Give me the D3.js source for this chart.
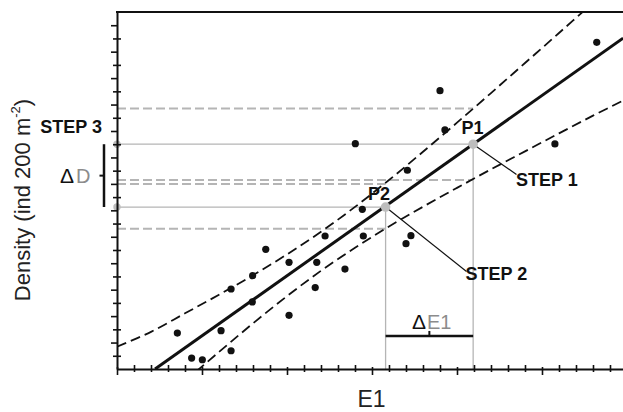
<!DOCTYPE html>
<html lang="en">
<head>
<meta charset="UTF-8">
<title>Density vs E1</title>
<script src="https://cdn.jsdelivr.net/npm/d3@7"></script>
<style>
  body { margin: 0; background: #fff; }
  text { font-family: "Liberation Sans", Arial, sans-serif; }
</style>
</head>
<body>
<svg width="623" height="412"></svg>
<script>

// observed points (E1, density)
const pointsX = [3.55, 4.39, 5.02, 6.12, 6.71, 6.71, 7.98, 7.96, 8.75, 10.12, 10.12, 11.75, 11.66,
                 12.24, 13.41, 14.43, 14.49, 17.0, 17.29, 17.08, 14.02, 19.29, 19.0, 25.76, 28.22];
const pointsY = [2.72, 0.83, 0.70, 2.90, 1.38, 6.05, 7.06, 5.07, 9.05, 8.07, 4.06, 8.07, 6.16,
                 10.06, 7.56, 12.08, 10.06, 9.48, 10.08, 15.03, 17.04, 18.08, 21.05, 17.02, 24.71];

// fitted line and confidence band
const fitX = [2.24, 29.77];
const fitY = [0, 25.02];
const upperX = [0, 2, 4, 6, 8, 10, 12, 14, 16, 18, 20, 22, 24, 26, 28];
const upperY = [1.69, 2.81, 4.21, 5.62, 7.09, 8.67, 10.38, 12.26, 14.29, 16.43, 18.63, 20.87, 23.14, 25.41, 27.7];
const lowerX = [4, 6, 8, 10, 12, 14, 16, 18, 20, 22, 24, 26, 28, 30];
const lowerY = [-0.92, 1.29, 3.45, 5.51, 7.43, 9.17, 10.78, 12.27, 13.70, 15.10, 16.46, 17.82, 19.16, 20.45];

// P1, P2
const stepX = [20.95, 15.8];
const stepY = [17.0, 12.25];
// band limits read at P1 and P2
const levelY = [19.7, 14.3, 14.0, 10.6];
const levelEnd = [20.95, 20.95, 15.8, 15.8];

const xTicks = d3.range(0, 30);
const yTicks = d3.range(1, 27);

const svg = d3.select("svg");
const x = d3.scaleLinear().domain([0, 29.765]).range([117, 623]);
const y = d3.scaleLinear().domain([0, 27]).range([369, 12]);

const grey = "#b5b5b5";
const textGrey = "#8c8c8c";

svg.append("clipPath").attr("id", "plot")
    .append("rect").attr("x", 117).attr("y", 12).attr("width", 506).attr("height", 357);

// dashed grey levels
svg.append("g").selectAll("line").data(levelY).join("line")
    .attr("x1", x(0)).attr("x2", (d, i) => x(levelEnd[i]))
    .attr("y1", d => y(d)).attr("y2", d => y(d))
    .attr("stroke", grey).attr("stroke-width", 2).attr("stroke-dasharray", "9,4");

// solid grey guides
const guides = svg.append("g").attr("stroke", grey).attr("stroke-width", 1.3);
stepX.forEach((sx, i) => {
    guides.append("line").attr("x1", x(0)).attr("x2", x(sx))
        .attr("y1", y(stepY[i])).attr("y2", y(stepY[i]));
    guides.append("line").attr("x1", x(sx)).attr("x2", x(sx))
        .attr("y1", y(stepY[i])).attr("y2", y(0));
});

// band + fit
const line = d3.line().curve(d3.curveCatmullRom);
const plot = svg.append("g").attr("clip-path", "url(#plot)");
plot.append("path")
    .attr("d", line(upperX.map((d, i) => [x(d), y(upperY[i])])))
    .attr("fill", "none").attr("stroke", "#111").attr("stroke-width", 1.8).attr("stroke-dasharray", "10,5");
plot.append("path")
    .attr("d", line(lowerX.map((d, i) => [x(d), y(lowerY[i])])))
    .attr("fill", "none").attr("stroke", "#111").attr("stroke-width", 1.8).attr("stroke-dasharray", "10,5");
plot.append("path")
    .attr("d", d3.line()(fitX.map((d, i) => [x(d), y(fitY[i])])))
    .attr("fill", "none").attr("stroke", "#111").attr("stroke-width", 3);

// points
svg.append("g").selectAll("circle").data(pointsX).join("circle")
    .attr("cx", d => x(d)).attr("cy", (d, i) => y(pointsY[i]))
    .attr("r", 3.6).attr("fill", "#111");

// leader lines to STEP 1 / STEP 2
svg.append("line").attr("x1", x(stepX[0])).attr("y1", y(stepY[0]))
    .attr("x2", 516.5).attr("y2", 174.5).attr("stroke", "#111").attr("stroke-width", 1.2);
svg.append("line").attr("x1", x(stepX[1])).attr("y1", y(stepY[1]))
    .attr("x2", 466.5).attr("y2", 271.5).attr("stroke", "#111").attr("stroke-width", 1.2);

// grey markers
svg.append("g").selectAll("circle").data(stepX).join("circle")
    .attr("cx", d => x(d)).attr("cy", (d, i) => y(stepY[i]))
    .attr("r", 4.8).attr("fill", "#bdbdbd");
svg.append("g").selectAll("circle").data(stepY).join("circle")
    .attr("cx", x(0)).attr("cy", d => y(d))
    .attr("r", 3.7).attr("fill", "#bdbdbd");

// axes
const xAxis = svg.append("g").attr("transform", `translate(0,${y(0)})`)
    .call(d3.axisBottom(x).tickValues(xTicks).tickFormat("").tickSizeOuter(0));
xAxis.select(".domain").attr("stroke", "#111").attr("stroke-width", 2);
xAxis.selectAll(".tick line").attr("stroke", "#111").attr("stroke-width", 1.6)
    .attr("y1", d => d % 5 === 0 ? -2 : -4)
    .attr("y2", d => d % 5 === 0 ? 6 : 3);

const yAxis = svg.append("g").attr("transform", `translate(${x(0)},0)`)
    .call(d3.axisLeft(y).tickValues(yTicks).tickFormat("").tickSizeOuter(0));
yAxis.select(".domain").attr("stroke", "#111").attr("stroke-width", 2);
yAxis.selectAll(".tick line").attr("stroke", "#111").attr("stroke-width", 1.6)
    .attr("x1", d => d % 2 === 0 ? 0.5 : 4)
    .attr("x2", d => d % 2 === 0 ? -6 : -4);

svg.append("line").attr("x1", x(0) - 1).attr("x2", 623).attr("y1", y(27)).attr("y2", y(27))
    .attr("stroke", "#111").attr("stroke-width", 2);

// axis titles
svg.append("text").attr("x", 371.5).attr("y", 406.5).attr("text-anchor", "middle")
    .attr("font-size", 23).attr("fill", "#222").text("E1");
const yl = svg.append("text").attr("transform", "translate(29.5,200) rotate(-90)")
    .attr("text-anchor", "middle").attr("font-size", 22).attr("fill", "#222");
yl.append("tspan").text("Density (ind 200 m");
yl.append("tspan").attr("dy", -10).attr("font-size", 13).text("-2");
yl.append("tspan").attr("dy", 10).text(")");

// labels
const bold = [["STEP 3", 102, 133, "end"], ["P1", 461.5, 134, "start"], ["P2", 368, 200, "start"],
              ["STEP 1", 516, 186, "start"], ["STEP 2", 465.5, 280, "start"]];
svg.append("g").selectAll("text").data(bold).join("text")
    .attr("x", d => d[1]).attr("y", d => d[2]).attr("text-anchor", d => d[3])
    .attr("font-size", 18).attr("font-weight", "bold").attr("fill", "#111")
    .text(d => d[0]);

// delta D bracket
const bx = 104;
svg.append("line").attr("x1", bx).attr("x2", bx).attr("y1", y(stepY[0])).attr("y2", y(stepY[1]))
    .attr("stroke", "#111").attr("stroke-width", 2.5);
svg.append("line").attr("x1", bx - 4.5).attr("x2", bx)
    .attr("y1", y((stepY[0] + stepY[1]) / 2)).attr("y2", y((stepY[0] + stepY[1]) / 2))
    .attr("stroke", "#111").attr("stroke-width", 2);
const dd = svg.append("text").attr("x", 60).attr("y", 183).attr("font-size", 20);
dd.append("tspan").attr("fill", "#111").attr("font-size", 21).text("Δ");
dd.append("tspan").attr("fill", textGrey).attr("dx", 2).text("D");

// delta E1 bracket
const by = y(2.5);
svg.append("line").attr("x1", x(stepX[1])).attr("x2", x(stepX[0])).attr("y1", by).attr("y2", by)
    .attr("stroke", "#111").attr("stroke-width", 2.5);
svg.append("line").attr("x1", x((stepX[0] + stepX[1]) / 2)).attr("x2", x((stepX[0] + stepX[1]) / 2))
    .attr("y1", by).attr("y2", by - 5)
    .attr("stroke", "#111").attr("stroke-width", 2);
const de = svg.append("text").attr("x", 412).attr("y", 328.5).attr("font-size", 20);
de.append("tspan").attr("fill", "#111").attr("font-size", 21).text("Δ");
de.append("tspan").attr("fill", textGrey).attr("dx", 1).text("E1");

</script>
</body>
</html>
